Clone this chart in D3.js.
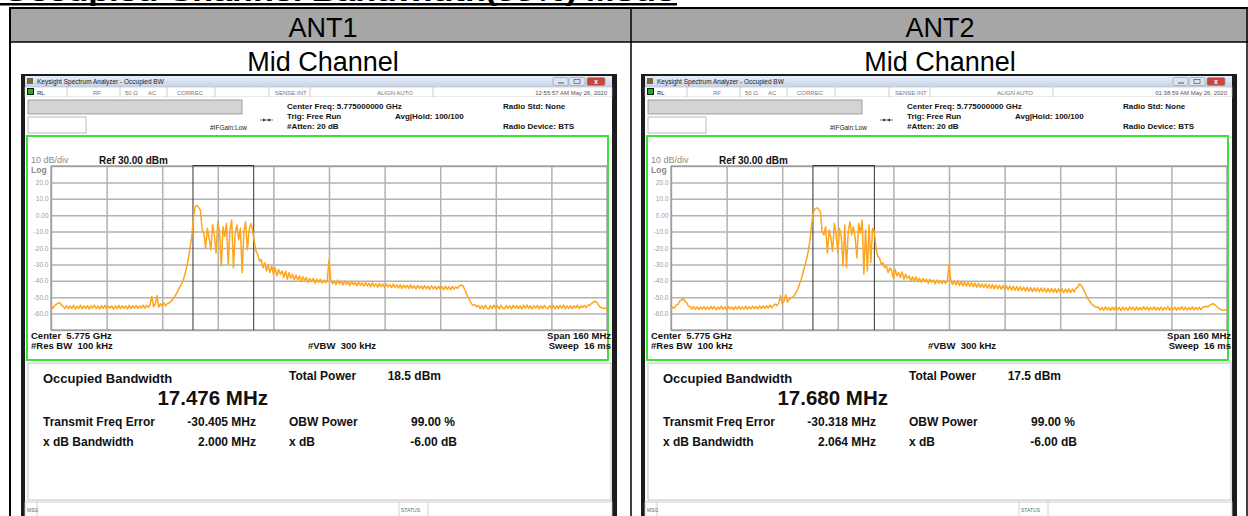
<!DOCTYPE html>
<html>
<head>
<meta charset="utf-8">
<script src="https://cdn.jsdelivr.net/npm/d3@7"></script>
<style>
html, body { margin: 0; padding: 0; background: #fff; overflow: hidden; }
svg { display: block; font-family: "Liberation Sans", Arial, sans-serif; }
</style>
</head>
<body>
<svg id="chart" width="1248" height="516"></svg>
<script>
// ---- data ----
const pageTitle = "Occupied Channel Bandwidth(99%) Mode";
const antennas = ["ANT1", "ANT2"];
const channelName = "Mid Channel";
const timestamps = ["12:55:57 AM May 26, 2020", "01:38:59 AM May 26, 2020"];

const centerMHz = 5775;
const spanMHz = 160;
const refLevel = 30;     // dBm
const dbPerDiv = 10;
const yTicks = [20, 10, 0, -10, -20, -30, -40, -50, -60];
const yTickLabels = ["20.0", "10.0", "0.00", "-10.0", "-20.0", "-30.0", "-40.0", "-50.0", "-60.0"];

const occupiedBW = [17.476, 17.680];      // MHz
const totalPower = [18.5, 17.5];          // dBm
const freqError = [-30.405, -30.318];     // MHz
const xdbBandwidth = [2.000, 2.064];      // MHz
const obwPower = [99.00, 99.00];          // %
const xdbValue = [-6.00, -6.00];          // dB

// trace points, one every 0.5 MHz from 5.695 GHz to 5.855 GHz (dBm)
const traceStepMHz = 0.5;
const ant1Trace = [
  -55.0, -56.8, -55.2, -54.4, -53.6, -53.2, -54.8, -55.6, -56.9, -55.1, -57.0, -55.3, -56.9, -55.0, -57.2, -55.4, -56.8, -54.9, -57.1, -55.3,
  -56.9, -55.1, -57.3, -55.2, -56.7, -54.9, -57.0, -55.4, -57.2, -55.1, -56.8, -55.0, -57.1, -55.5, -56.6, -55.2, -57.3, -55.3, -56.9, -55.0,
  -57.0, -55.2, -56.8, -55.4, -57.1, -55.0, -56.9, -55.3, -56.7, -55.1, -56.8, -55.4, -56.5, -54.8, -56.6, -55.0, -56.2, -54.6, -49.5, -55.8,
  -54.3, -49.0, -56.0, -54.0, -55.6, -53.4, -55.3, -53.8,
  -53.5, -52.4, -51.5, -50.0, -48.2, -46.1, -44.0, -42.3, -40.0, -36.2, -32.0, -27.0, -20.0, -13.0, -1.0, 5.2, 6.0, 4.6, 3.0, -9.0,
  -11, -20, -8, -14, -21, -6, -12, -23, -4, -10, -31, -7, -13, -5, -30, -9, -3, -32, -11, -6, -15, -8, -35, -10, -4, -21, -9, -5, -9,
  -16, -22, -24, -28, -27, -32, -29, -34, -30, -35, -31, -36, -32, -37, -33, -36, -34, -38, -34, -39, -35, -38.5, -36, -39.5, -36.5,
  -39.5, -37, -40.5, -37.5, -40, -38, -41, -38.5, -40.5, -38.5, -41.5, -39, -41, -39, -41.5, -39.5, -41.2, -39.8,
  -27,
  -39.2, -41.8, -40.0, -42.3, -39.6, -41.9, -40.4, -42.6, -40.1, -42.2, -40.7, -42.9, -40.5, -42.4, -41.0, -43.1, -40.8, -42.7, -41.3, -43.3,
  -41.0, -43.2, -41.5, -43.6, -41.2, -43.4, -41.8, -43.9, -41.6, -43.5, -42.0, -44.1, -41.8, -43.8, -42.3, -44.2, -42.0, -44.0, -42.5, -44.4,
  -42.3, -44.6, -42.6, -44.3, -42.8, -44.8, -42.5, -44.6, -43.0, -45.0, -42.8, -44.7, -43.1, -45.1, -42.9, -44.9, -43.3, -45.2, -43.0, -45.0,
  -43.4, -45.3, -43.2, -45.1, -43.5, -45.4, -43.3, -45.2, -43.6, -45.5, -43.4, -45.1, -43.7, -44.6, -43.2,
  -42.5, -43.0, -45.0, -47.5, -50.0, -52.0, -54.0, -55.0, -54.5, -56.0,
  -55.0, -56.9, -55.2, -57.1, -54.9, -56.8, -57.2, -55.1, -56.9, -54.8, -57.0, -55.3, -57.2, -54.9, -56.6, -57.1, -55.0, -56.8, -55.2, -57.3,
  -55.0, -56.7, -55.1, -57.0, -55.3, -57.3, -55.0, -56.8, -54.8, -56.9, -55.2, -57.2, -55.1, -56.7, -54.9, -57.1, -55.3, -56.9, -55.0, -56.6,
  -57.0, -55.1, -56.8, -54.9, -57.2, -55.2, -56.9, -55.0, -56.7, -54.8, -57.1, -55.3, -56.8, -55.1, -57.0, -55.2, -56.6, -54.9, -56.9, -55.3, -56.3, -55.0, -56.4, -54.8,
  -55.0, -54.0, -53.0, -52.5, -53.0, -54.5, -56.0, -56.5, -57.0, -56.5, -57.0
];
const ant2Trace = [
  -57.5, -56.0, -56.6, -54.8, -54.6, -52.2, -51.9, -50.6, -52.5, -53.2, -55.5, -55.6, -57.2, -55.7, -57.4, -55.9, -57.6, -56.0, -57.3, -55.8,
  -57.5, -55.9, -57.4, -55.6, -57.2, -55.8, -57.7, -56.0, -57.3, -55.5, -57.4, -55.9, -57.6, -55.7, -57.2, -56.0, -57.5, -55.8, -57.3, -55.6,
  -57.4, -55.9, -57.2, -55.5, -57.3, -55.8, -57.1, -55.4, -57.0, -55.7, -57.2, -55.3, -56.9, -55.4, -56.8, -55.1, -56.6, -54.9, -56.4,
  -55.0, -54.2, -55.1, -53.6, -49.0, -54.0, -52.5, -48.5, -53.0, -51.5, -50.5,
  -50.0, -49.0, -47.0, -45.0, -42.0, -39.0, -35.0, -31.0, -27.0, -22.0, -15.0, -5.0, 2.0, 4.0, 4.5, 3.5, 2.0, -10.0,
  -12, -7, -23, -9, -14, -22, -5, -11, -23, -8, -13, -31, -6, -32, -10, -4, -12, -7, -14, -26, -5, -11, -3, -36, -9, -34, -6, -29, -8, -10,
  -20, -25, -26, -30, -29, -32, -31, -35, -32, -34, -38.5, -33, -37, -35, -38, -34.5, -39, -36, -38.5, -37, -40, -37.5, -40.5,
  -37.5, -40.5, -38.5, -41, -38.5, -40.5, -39, -41.5, -39, -41, -39.5, -42, -39.5, -41.5, -39.8, -41.8, -39.8, -41.6, -40,
  -30,
  -39.5, -42.2, -40.1, -42.6, -40.0, -42.9, -40.5, -43.1, -40.7, -43.3, -41.0, -43.4, -41.2, -43.7, -41.4, -43.9, -41.6, -44.0, -41.8, -44.2,
  -41.9, -44.4, -42.1, -44.6, -42.3, -44.8, -42.5, -45.0, -42.7, -45.2, -42.9, -45.3, -43.0, -45.5, -43.2, -45.7, -43.4, -45.8, -43.5, -46.0,
  -43.6, -46.1, -43.8, -46.3, -44.0, -46.4, -44.1, -46.6, -44.2, -46.5, -44.3, -46.8, -44.4, -46.7, -44.5, -47.0, -44.6, -46.9, -44.7, -47.1,
  -44.8, -47.2, -44.9, -47.0, -44.8, -47.3, -45.0, -47.1, -44.9, -47.2, -45.0, -46.8, -44.6,
  -44.0, -42.0, -42.5, -44.5, -46.5, -49.0, -51.0, -52.5, -54.0, -55.0, -55.8, -56.2,
  -56.0, -57.8, -56.2, -58.0, -55.9, -57.7, -56.3, -58.1, -56.0, -57.9, -55.8, -57.6, -56.2, -58.2, -56.0, -57.8, -56.3, -58.0, -55.9, -57.7,
  -56.1, -58.1, -56.0, -57.8, -56.3, -57.9, -55.8, -57.6, -56.1, -58.1, -56.2, -57.7, -55.9, -57.9, -56.3, -57.8, -56.0, -58.0, -56.2, -57.6,
  -55.9, -57.9, -56.3, -57.7, -56.0, -58.0, -56.2, -57.6, -55.8, -57.8, -56.1, -57.9, -56.3, -57.7, -55.9, -57.8, -56.2, -57.6, -56.0, -57.7, -56.1, -56.0, -55.4, -56.0,
  -55.0, -54.3, -54.0, -54.6, -55.5, -56.6, -57.3, -57.8, -58.0, -57.6, -58.2
];
const traces = [ant1Trace, ant2Trace];

// ---- page ----
const svg = d3.select("#chart");
const panelShift = 620;   // second screenshot sits 620px to the right
const headerShift = 617;

const defs = svg.append("defs");
const grad = defs.append("linearGradient").attr("id", "titlebar").attr("x1", 0).attr("y1", 0).attr("x2", 0).attr("y2", 1);
grad.append("stop").attr("offset", "0%").attr("stop-color", "#e6eef8");
grad.append("stop").attr("offset", "100%").attr("stop-color", "#c6d4e8");

// title of the page, mostly cut off at the top edge
svg.append("text")
    .attr("x", 3).attr("y", 1.2)
    .attr("font-size", 22).attr("font-weight", "bold")
    .attr("textLength", 672).attr("lengthAdjust", "spacingAndGlyphs")
    .text(pageTitle);
svg.append("rect").attr("x", 0).attr("y", 3).attr("width", 677).attr("height", 2.5).attr("fill", "#000");

// table
svg.append("rect").attr("x", 10).attr("y", 8).attr("width", 1238).attr("height", 34).attr("fill", "#a6a6a6");
const tableLines = [
    [9, 8, 1248, 8, 2], [10, 42, 1248, 42, 1.5],
    [10, 8, 10, 516, 2], [631, 8, 631, 516, 1.5], [1247, 8, 1247, 516, 1.5]
];
svg.append("g").selectAll("line").data(tableLines).enter().append("line")
    .attr("x1", d => d[0]).attr("y1", d => d[1]).attr("x2", d => d[2]).attr("y2", d => d[3])
    .attr("stroke", "#000").attr("stroke-width", d => d[4]);

antennas.forEach((name, k) => {
    svg.append("text").attr("x", 323 + headerShift * k).attr("y", 37)
        .attr("text-anchor", "middle").attr("font-size", 27).text(name);
    svg.append("text").attr("x", 323 + headerShift * k).attr("y", 70.5)
        .attr("text-anchor", "middle").attr("font-size", 27).text(channelName);
    drawAnalyzer(svg.append("g").attr("transform", `translate(${panelShift * k},0)`), k);
});

function drawAnalyzer(g, k) {
    const small = "#555";

    // window frame
    g.append("rect").attr("x", 21).attr("y", 74).attr("width", 596).attr("height", 450).attr("fill", "#1c1c1c");
    g.append("rect").attr("x", 25).attr("y", 76).attr("width", 587).attr("height", 445).attr("fill", "#fbfbfb");

    // title bar
    g.append("rect").attr("x", 25).attr("y", 76).attr("width", 587).attr("height", 11).attr("fill", "url(#titlebar)");
    g.append("rect").attr("x", 27).attr("y", 78).attr("width", 6).attr("height", 6).attr("fill", "#7a6a3a");
    g.append("text").attr("x", 37).attr("y", 84).attr("font-size", 6.5).attr("fill", "#222")
        .text("Keysight Spectrum Analyzer - Occupied BW");
    [[553, 15, "#dbe4ef"], [569, 16, "#dbe4ef"], [587, 18, "#c8473c"]].forEach(b => {
        g.append("rect").attr("x", b[0]).attr("y", 77.5).attr("width", b[1]).attr("height", 8)
            .attr("rx", 1.5).attr("fill", b[2]).attr("stroke", "#8797ad").attr("stroke-width", 0.6);
    });
    g.append("line").attr("x1", 558).attr("x2", 564).attr("y1", 83).attr("y2", 83).attr("stroke", "#555");
    g.append("rect").attr("x", 574).attr("y", 79.5).attr("width", 6).attr("height", 4).attr("fill", "none").attr("stroke", "#555").attr("stroke-width", 0.7);
    g.append("text").attr("x", 596).attr("y", 84).attr("text-anchor", "middle").attr("font-size", 7)
        .attr("font-weight", "bold").attr("fill", "#fff").text("x");

    // status row
    g.append("rect").attr("x", 25).attr("y", 87).attr("width", 587).attr("height", 10)
        .attr("fill", "#fff").attr("stroke", "#b8b8b8").attr("stroke-width", 0.6);
    g.append("rect").attr("x", 27).attr("y", 88).attr("width", 7).attr("height", 7).attr("fill", "#111");
    g.append("rect").attr("x", 28).attr("y", 89).attr("width", 5).attr("height", 5).attr("fill", "#19b319");
    [67, 120, 167, 215, 269, 310, 433].forEach(x => {
        g.append("line").attr("x1", x).attr("x2", x).attr("y1", 87).attr("y2", 97).attr("stroke", "#b8b8b8").attr("stroke-width", 0.7);
    });
    [["RL", 37], ["RF", 93], ["50 \u03A9", 125], ["AC", 148], ["CORREC", 177], ["SENSE:INT", 275], ["ALIGN AUTO", 377]]
        .forEach(t => g.append("text").attr("x", t[1]).attr("y", 94.5).attr("font-size", 6).attr("fill", t[0] === "RL" ? "#222" : "#777").text(t[0]));
    g.append("text").attr("x", 607).attr("y", 94.5).attr("text-anchor", "end").attr("font-size", 6).attr("fill", small)
        .text(timestamps[k]);

    // measurement setup area
    g.append("rect").attr("x", 25).attr("y", 97).attr("width", 587).attr("height", 39).attr("fill", "#fff");
    g.append("rect").attr("x", 28).attr("y", 100).attr("width", 214).attr("height", 14)
        .attr("fill", "#d4d4d4").attr("stroke", "#8c8c8c").attr("stroke-width", 0.8);
    g.append("rect").attr("x", 28).attr("y", 117).attr("width", 58).attr("height", 16)
        .attr("fill", "#fff").attr("stroke", "#a8a8a8").attr("stroke-width", 0.8);
    g.append("text").attr("x", 210).attr("y", 130).attr("font-size", 6.5).attr("fill", "#222").text("#IFGain:Low");
    g.append("line").attr("x1", 260).attr("x2", 273).attr("y1", 120).attr("y2", 120).attr("stroke", "#333").attr("stroke-width", 0.7);
    g.append("path").attr("d", "M263,118.5 L266,120 L263,121.5 Z M270,118.5 L267,120 L270,121.5 Z").attr("fill", "#333");

    const setup = [
        ["Center Freq: 5.775000000 GHz", 287, 108.5],
        ["Trig: Free Run", 287, 118.5],
        ["#Atten: 20 dB", 287, 129],
        ["Avg|Hold: 100/100", 395, 118.5],
        ["Radio Std: None", 503, 108.5],
        ["Radio Device: BTS", 503, 129]
    ];
    setup.forEach(t => g.append("text").attr("x", t[1]).attr("y", t[2])
        .attr("font-size", 8).attr("font-weight", "bold").attr("fill", "#111").text(t[0]));

    // green trace window
    g.append("rect").attr("x", 27).attr("y", 136).attr("width", 581).attr("height", 224)
        .attr("fill", "#fff").attr("stroke", "#35e435").attr("stroke-width", 2);

    const fStart = centerMHz - spanMHz / 2;
    const x = d3.scaleLinear().domain([fStart, fStart + spanMHz]).range([51, 607]);
    const y = d3.scaleLinear().domain([refLevel - 10 * dbPerDiv, refLevel]).range([330, 166]);

    // grid through the axes
    const xGrid = d3.range(0, 11).map(i => fStart + i * spanMHz / 10);
    const yGrid = d3.range(0, 11).map(i => refLevel - i * dbPerDiv);
    g.append("g").attr("transform", "translate(0,330)")
        .call(d3.axisBottom(x).tickValues(xGrid).tickSize(-164).tickFormat(""))
        .call(a => a.select(".domain").remove())
        .selectAll("line").attr("stroke", "#b2b2b2").attr("stroke-width", 1.5);
    g.append("g").attr("transform", "translate(51,0)")
        .call(d3.axisLeft(y).tickValues(yGrid).tickSize(-556).tickFormat(""))
        .call(a => a.select(".domain").remove())
        .selectAll("line").attr("stroke", "#b2b2b2").attr("stroke-width", 1.5);
    g.append("rect").attr("x", 51).attr("y", 166).attr("width", 556).attr("height", 164)
        .attr("fill", "none").attr("stroke", "#8a8a8a").attr("stroke-width", 1);

    // y labels
    g.append("g").attr("transform", "translate(51,0)")
        .call(d3.axisLeft(y).tickValues(yTicks).tickSize(0).tickPadding(2.5).tickFormat((d, i) => yTickLabels[i]))
        .call(a => a.select(".domain").remove())
        .selectAll("text").attr("font-size", 6.5).attr("fill", "#a0a0a0")
        .attr("font-family", "'Liberation Sans', Arial, sans-serif");

    g.append("text").attr("x", 31).attr("y", 163).attr("font-size", 9).attr("fill", "#8a8a8a").text("10 dB/div");
    g.append("text").attr("x", 31).attr("y", 173).attr("font-size", 8.5).attr("font-weight", "bold").attr("fill", "#8a8a8a").text("Log");
    g.append("text").attr("x", 99).attr("y", 164).attr("font-size", 10).attr("font-weight", "bold").attr("fill", "#111").text("Ref 30.00 dBm");

    // occupied bandwidth markers
    const obwCenter = centerMHz + freqError[k];
    const f1 = x(obwCenter - occupiedBW[k] / 2), f2 = x(obwCenter + occupiedBW[k] / 2);
    g.append("path")
        .attr("d", `M${f1},330 L${f1},165.5 L${f2},165.5 L${f2},330`)
        .attr("fill", "none").attr("stroke", "#333").attr("stroke-width", 1);

    // spectrum trace
    const line = d3.line()
        .x((d, i) => x(fStart + i * traceStepMHz))
        .y(d => y(d));
    g.append("path").datum(traces[k])
        .attr("d", line)
        .attr("fill", "none").attr("stroke", "#ffa51c").attr("stroke-width", 1.5)
        .attr("stroke-linejoin", "round");

    // footer of trace window
    const foot = [
        ["Center  5.775 GHz", 31, 339, "start"],
        ["#Res BW  100 kHz", 31, 349, "start"],
        ["#VBW  300 kHz", 308, 349, "start"],
        ["Span 160 MHz", 611, 339, "end"],
        ["Sweep  16 ms", 611, 349, "end"]
    ];
    foot.forEach(t => g.append("text").attr("x", t[1]).attr("y", t[2]).attr("text-anchor", t[3])
        .attr("font-size", 9.5).attr("font-weight", "bold").attr("fill", "#111")
        .attr("xml:space", "preserve").style("white-space", "pre").text(t[0]));

    // results panel
    g.append("rect").attr("x", 28).attr("y", 363).attr("width", 583).attr("height", 137)
        .attr("fill", "#fff").attr("stroke", "#c4c4c4").attr("stroke-width", 1);
    g.append("text").attr("x", 43).attr("y", 383).attr("font-size", 13).attr("font-weight", "bold").attr("fill", "#111")
        .text("Occupied Bandwidth");
    g.append("text").attr("x", 268).attr("y", 404.5).attr("text-anchor", "end").attr("font-size", 20.5)
        .attr("font-weight", "bold").attr("fill", "#111").text(d3.format(".3f")(occupiedBW[k]) + " MHz");

    const fmt3 = d3.format(".3f"), fmt2 = d3.format(".2f");
    const results = [
        ["Total Power", 289, 380, "start"],
        [d3.format(".1f")(totalPower[k]) + " dBm", 441, 380, "end"],
        ["Transmit Freq Error", 43, 426, "start"],
        [fmt3(freqError[k]).replace("\u2212", "-") + " MHz", 256, 426, "end"],
        ["OBW Power", 289, 426, "start"],
        [fmt2(obwPower[k]) + " %", 455, 426, "end"],
        ["x dB Bandwidth", 43, 446, "start"],
        [fmt3(xdbBandwidth[k]) + " MHz", 256, 446, "end"],
        ["x dB", 289, 446, "start"],
        [fmt2(xdbValue[k]).replace("\u2212", "-") + " dB", 457, 446, "end"]
    ];
    results.forEach(t => g.append("text").attr("x", t[1]).attr("y", t[2]).attr("text-anchor", t[3])
        .attr("font-size", 12).attr("font-weight", "bold").attr("fill", "#111").text(t[0]));

    // message / status bar
    g.append("rect").attr("x", 25).attr("y", 502).attr("width", 587).attr("height", 16)
        .attr("fill", "#fff").attr("stroke", "#c4c4c4").attr("stroke-width", 0.8);
    [37, 399, 428].forEach(xx => g.append("line").attr("x1", xx).attr("x2", xx).attr("y1", 502).attr("y2", 516)
        .attr("stroke", "#c4c4c4").attr("stroke-width", 0.8));
    g.append("text").attr("x", 27).attr("y", 512).attr("font-size", 5).attr("fill", "#666").text("MSG");
    g.append("text").attr("x", 401).attr("y", 512).attr("font-size", 5).attr("fill", "#666").text("STATUS");
}
</script>
</body>
</html>
